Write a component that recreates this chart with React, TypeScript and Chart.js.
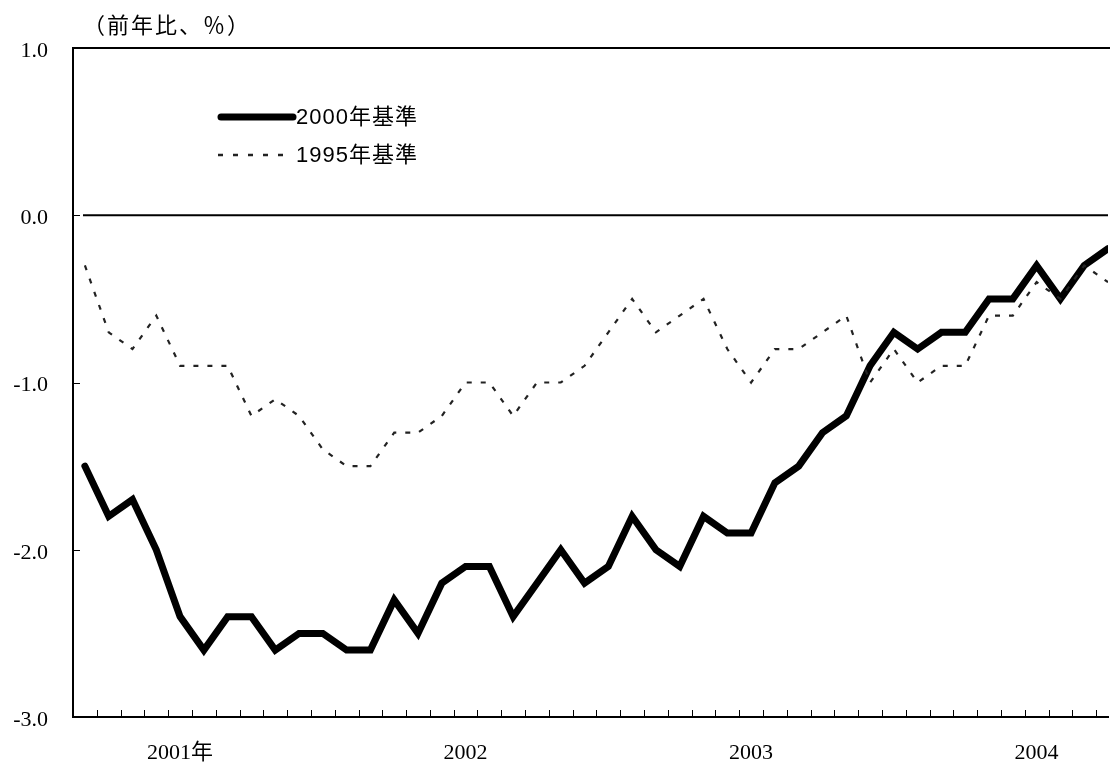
import { useEffect, useRef } from 'react';
import { Chart, registerables } from 'chart.js';

Chart.register(...registerables);

// 前年比（%）: 2000年基準 and 1995年基準, monthly
const yoy2000Base = [
  -1.5, -1.8, -1.7, -2.0, -2.4, -2.6, -2.4, -2.4, -2.6, -2.5, -2.5, -2.6,
  -2.6, -2.3, -2.5, -2.2, -2.1, -2.1, -2.4, -2.2, -2.0, -2.2, -2.1, -1.8,
  -2.0, -2.1, -1.8, -1.9, -1.9, -1.6, -1.5, -1.3, -1.2, -0.9, -0.7, -0.8,
  -0.7, -0.7, -0.5, -0.5, -0.3, -0.5, -0.3, -0.2,
];
const yoy1995Base = [
  -0.3, -0.7, -0.8, -0.6, -0.9, -0.9, -0.9, -1.2, -1.1, -1.2, -1.4, -1.5,
  -1.5, -1.3, -1.3, -1.2, -1.0, -1.0, -1.2, -1.0, -1.0, -0.9, -0.7, -0.5,
  -0.7, -0.6, -0.5, -0.8, -1.0, -0.8, -0.8, -0.7, -0.6, -1.0, -0.8, -1.0,
  -0.9, -0.9, -0.6, -0.6, -0.4, -0.5, -0.3, -0.4,
];
const seriesNames = ['2000年基準', '1995年基準'];
const yearLabels = ['2001年', '2002', '2003', '2004'];
const yearLabelIndex = [4, 16, 28, 40];
const yTickValues = [-3, -2, -1, 0, 1];
const unitLabel = '（前年比、％）';

const SANS = '"Liberation Sans", "Noto Sans CJK JP", sans-serif';
const SERIF = '"Liberation Serif", "Noto Sans CJK JP", serif';

const framePlugin = {
  id: 'frame',
  beforeDatasetsDraw(chart: any) {
    const { ctx, chartArea: a, scales } = chart;
    const x = scales.x;
    const y = scales.y;
    ctx.save();
    ctx.strokeStyle = '#000';
    // zero line
    ctx.lineWidth = 2;
    const y0 = y.getPixelForValue(0);
    ctx.beginPath();
    ctx.moveTo(x.getPixelForValue(-0.08), y0);
    ctx.lineTo(a.right, y0);
    ctx.stroke();
    // top border
    ctx.beginPath();
    ctx.moveTo(a.left - 1, a.top);
    ctx.lineTo(chart.width, a.top);
    ctx.stroke();
    // inward tick marks
    ctx.lineWidth = 1;
    ctx.beginPath();
    for (let i = 0; i < yoy2000Base.length - 1; i++) {
      const px = Math.round(x.getPixelForValue(i + 0.5)) + 0.5;
      ctx.moveTo(px, a.bottom);
      ctx.lineTo(px, a.bottom - 7);
    }
    for (const v of yTickValues) {
      const py = Math.round(y.getPixelForValue(v)) + 0.5;
      ctx.moveTo(a.left, py);
      ctx.lineTo(a.left + 7, py);
    }
    ctx.stroke();
    ctx.restore();
  },
  afterDatasetsDraw(chart: any) {
    const { ctx, chartArea: a } = chart;
    ctx.save();
    // unit label
    ctx.fillStyle = '#000';
    ctx.font = `22px ${SANS}`;
    ctx.textBaseline = 'middle';
    ctx.textAlign = 'left';
    (ctx as any).letterSpacing = '2px';
    ctx.fillText(unitLabel, a.left + 10, a.top - 21);
    // legend
    const lx0 = a.left + 145;
    const lx1 = a.left + 220;
    const ly1 = a.top + 69;
    const ly2 = a.top + 107;
    ctx.strokeStyle = '#000';
    ctx.lineWidth = 7;
    ctx.lineCap = 'round';
    ctx.beginPath();
    ctx.moveTo(lx0 + 3, ly1);
    ctx.lineTo(lx1, ly1);
    ctx.stroke();
    ctx.strokeStyle = '#222';
    ctx.lineWidth = 2.5;
    ctx.lineCap = 'butt';
    ctx.setLineDash([5, 10]);
    ctx.beginPath();
    ctx.moveTo(lx0, ly2);
    ctx.lineTo(lx1, ly2);
    ctx.stroke();
    ctx.setLineDash([]);
    ctx.font = `22px ${SANS}`;
    (ctx as any).letterSpacing = '1px';
    ctx.fillStyle = '#000';
    ctx.fillText(seriesNames[0], lx1 + 3, ly1 + 1);
    ctx.fillText(seriesNames[1], lx1 + 3, ly2 + 1);
    ctx.restore();
  },
};

export default function App() {
  const ref = useRef<HTMLCanvasElement | null>(null);
  useEffect(() => {
    document.body.style.margin = '0';
    const canvas = ref.current!;
    const chart = new Chart(canvas, {
      type: 'line',
      data: {
        datasets: [
          {
            label: seriesNames[1],
            data: yoy1995Base.map((v, i) => ({ x: i, y: v })),
            borderColor: '#222',
            borderWidth: 2.2,
            borderDash: [5, 9],
            pointRadius: 0,
            fill: false,
            tension: 0,
            order: 0,
          },
          {
            label: seriesNames[0],
            data: yoy2000Base.map((v, i) => ({ x: i, y: v })),
            borderColor: '#000',
            borderWidth: 7,
            borderJoinStyle: 'miter',
            borderCapStyle: 'round',
            pointRadius: 0,
            fill: false,
            tension: 0,
            order: 1,
          },
        ],
      },
      options: {
        animation: false,
        responsive: false,
        maintainAspectRatio: false,
        layout: { padding: { top: 48, right: 2, left: 0, bottom: 0 } },
        plugins: {
          legend: { display: false },
          tooltip: { enabled: false },
          title: { display: false },
        },
        scales: {
          x: {
            type: 'linear',
            min: -0.5,
            max: yoy2000Base.length - 1,
            grid: { display: false, drawTicks: false },
            border: { display: true, color: '#000', width: 2 },
            afterBuildTicks: (scale: any) => {
              scale.ticks = yearLabelIndex.map((v) => ({ value: v }));
            },
            afterFit: (scale: any) => {
              scale.height = 50;
            },
            ticks: {
              autoSkip: false,
              maxRotation: 0,
              padding: 23,
              color: '#000',
              font: { family: SERIF, size: 22 },
              callback: (v: any) => {
                const k = yearLabelIndex.indexOf(Number(v));
                return k >= 0 ? yearLabels[k] : '';
              },
            },
          },
          y: {
            type: 'linear',
            min: -3,
            max: 1,
            grid: { display: false, drawTicks: false },
            border: { display: true, color: '#000', width: 2 },
            afterFit: (scale: any) => {
              scale.width = 73;
            },
            ticks: {
              stepSize: 1,
              padding: 25,
              labelOffset: 3,
              color: '#000',
              font: { family: SERIF, size: 22 },
              callback: (v: any) => Number(v).toFixed(1),
            },
          },
        },
      },
      plugins: [framePlugin],
    } as any);
    return () => chart.destroy();
  }, []);
  return (
    <div style={{ width: 1110, height: 767 }}>
      <canvas ref={ref} width={1110} height={767} style={{ display: 'block' }} />
    </div>
  );
}
